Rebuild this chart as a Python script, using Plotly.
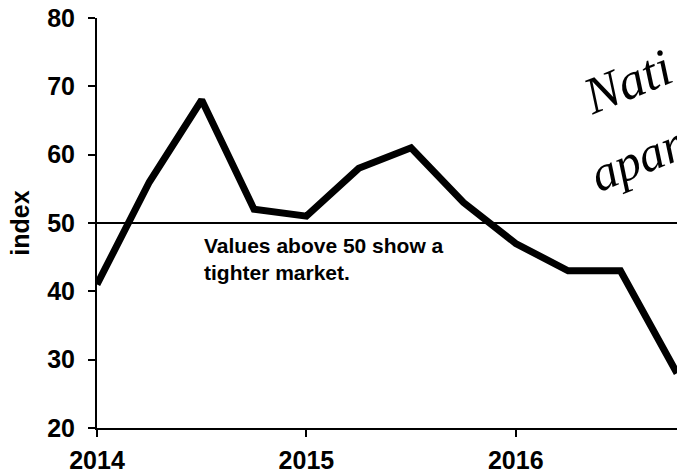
import plotly.graph_objects as go

quarters = [2014.0, 2014.25, 2014.5, 2014.75, 2015.0, 2015.25, 2015.5,
            2015.75, 2016.0, 2016.25, 2016.5, 2016.77]
index_values = [41, 56, 68, 52, 51, 58, 61, 53, 47, 43, 43, 28]
year_ticks = [2014, 2015, 2016]
y_ticks = [20, 30, 40, 50, 60, 70, 80]

font = "Liberation Sans, Arial, sans-serif"
hand = "Liberation Serif, serif"

fig = go.Figure()
fig.add_trace(go.Scatter(
    x=quarters, y=index_values, mode="lines",
    line=dict(color="black", width=7), cliponaxis=False,
))
fig.add_hline(y=50, line=dict(color="black", width=2))

fig.add_annotation(
    x=2014.5, y=44.8, xanchor="left", yanchor="middle", align="left",
    text="<b>Values above 50 show a<br>tighter market.</b>", showarrow=False,
    font=dict(family=font, size=21, color="black"),
)
# handwritten note, cut off at the right edge like the original
fig.add_annotation(
    xref="paper", yref="paper", x=0.915, y=0.845, xanchor="center", yanchor="middle",
    text="<i>Nati</i>", showarrow=False, textangle=-22,
    font=dict(family=hand, size=52, color="black"),
)
fig.add_annotation(
    xref="paper", yref="paper", x=0.93, y=0.655, xanchor="center", yanchor="middle",
    text="<i>apar</i>", showarrow=False, textangle=-22,
    font=dict(family=hand, size=50, color="black"),
)

fig.update_xaxes(
    range=[2014, 2016.77], tickvals=year_ticks, ticktext=[str(t) for t in year_ticks],
    showline=True, linecolor="black", linewidth=2, ticks="outside",
    ticklen=7, tickwidth=1.5, tickcolor="black", showgrid=False, zeroline=False,
    ticklabelstandoff=2,
    tickfont=dict(family=font, size=25, color="black", weight="bold"),
)
fig.update_yaxes(
    range=[20, 80], tickvals=y_ticks,
    title=dict(text="<b>index</b>", standoff=10,
               font=dict(family=font, size=25, color="black")),
    showline=True, linecolor="black", linewidth=2, ticks="outside",
    ticklen=7, tickwidth=1.5, tickcolor="black", showgrid=False, zeroline=False,
    ticklabelstandoff=8, ticklabeloverflow="allow",
    tickfont=dict(family=font, size=25, color="black", weight="bold"),
)
fig.update_layout(
    width=677, height=473, showlegend=False,
    margin=dict(l=97, r=0, t=18, b=45),
    paper_bgcolor="white", plot_bgcolor="white",
    font=dict(family=font, color="black"),
)

fig.write_html(
    "out.html",
    config={"displayModeBar": False},
    post_script="document.body.style.margin='0';",
)
